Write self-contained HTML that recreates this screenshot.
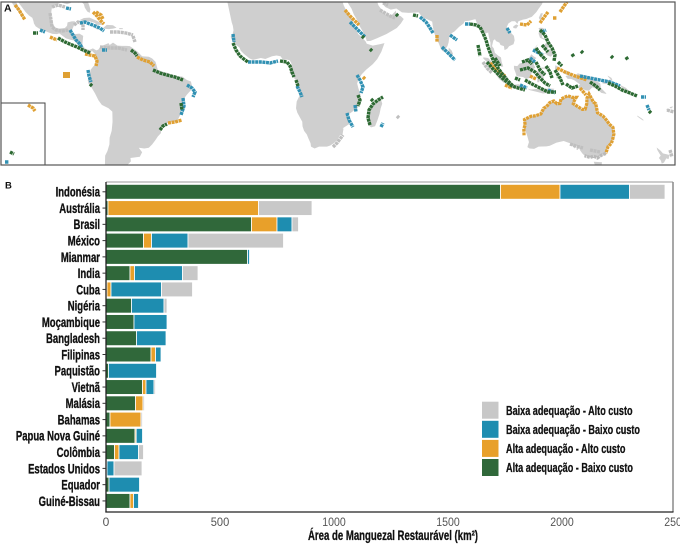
<!DOCTYPE html>
<html>
<head>
<meta charset="utf-8">
<style>
html,body{margin:0;padding:0;background:#fff;}
body{width:680px;height:546px;overflow:hidden;}
svg{display:block;}
</style>
</head>
<body>
<svg width="680" height="546" viewBox="0 0 680 546" xmlns="http://www.w3.org/2000/svg" font-family="'Liberation Sans', Arial, sans-serif">
<defs>
<clipPath id="mc"><rect x="1" y="2" width="674" height="163"/></clipPath>
</defs>

<!-- ================= MAP (A) ================= -->
<g clip-path="url(#mc)">
 <g transform="matrix(2.24,0,0,-2.26,269.8,69.8)" fill="#cfcfcf" stroke="none">
  <polygon points="-120,40 -120,34 -117,32.5 -116,30.5 -115,29.5 -114,28 -112.5,26.5 -111,24.5 -110,23 -109.5,23.2 -110.5,24.5 -111.5,26 -112.5,28.5 -113.5,30.5 -114.8,31.8 -113,31.3 -112,29.5 -110.5,27.5 -109,25.5 -107.5,24 -106,23 -105.5,21.5 -105.3,20.5 -104.5,19.2 -103,18.2 -101,17.5 -99,16.6 -97,15.9 -95,15.8 -94,16.1 -92.5,15 -91,13.9 -89,13.3 -87.5,13 -86,11.5 -85.7,10.5 -85,9.8 -84,9.3 -83,8.3 -81,7.7 -80,7.3 -79.5,8.5 -78,7 -77.3,4 -77.5,2.5 -78.8,1.5 -80,0 -80.5,-2.5 -80,-3.5 -81.3,-4.5 -81,-6 -79.5,-8 -78,-10.5 -76.5,-13.5 -75,-15.5 -72,-17 -70.3,-18.5 -70.2,-23 -70.6,-27 -71.5,-30 -71.6,-33 -72.5,-36 -73.5,-38 -73.6,-42 -74,-46 -65,-46 -63.5,-42 -62,-40.5 -62.2,-39 -58,-38.5 -57,-36.5 -58.5,-34.5 -56,-34.8 -54,-34.5 -52.5,-33 -51,-31 -50,-29.5 -48.6,-28 -48.5,-26 -46.5,-24 -44.5,-23 -42,-23 -41,-22 -40,-20 -39.5,-18 -39,-15 -38.5,-13 -37,-11 -35.2,-9 -34.8,-7 -35.2,-5.2 -37,-4.5 -39,-3 -41.5,-2.8 -44,-2.5 -45,-1.5 -48,-0.8 -50,0 -51,3.5 -52.5,5 -54,5.8 -57,6 -59,8 -61,9.5 -62.5,10.5 -64,10.6 -66,10.6 -68,10.7 -70,12 -71.5,11 -72,11.8 -74,11 -75.5,10.5 -76.5,9 -77.4,8.6 -79,9.5 -80.5,8.8 -81.5,9 -82.5,9.5 -83.7,11 -83.5,13 -83.3,15 -85,16 -88,15.7 -88.3,17.5 -87.5,19.5 -87,21.5 -88.5,21.4 -90.3,21 -90.5,19.5 -91.5,18.5 -94,18.2 -95.8,18.7 -96.5,19.8 -97.3,21.5 -97.7,24 -97.5,26 -97.2,27.8 -95,29.3 -93,29.7 -90.5,29 -89,29.5 -88,30.4 -85.5,29.7 -84,30 -83,29 -82.6,27.5 -81.5,25.8 -80.4,25.2 -80.1,26.8 -80.7,28.8 -81.4,30.5 -81,32 -79,33.5 -75,36 -75,40"/>
  <polygon points="-85,21.9 -83,22.9 -80.5,23.1 -77.5,21.8 -74.2,20.2 -75,19.9 -77.5,19.9 -78,20.7 -81,21.6 -83,21.5"/>
  <polygon points="-74.4,18.5 -72.8,19.9 -70,19.7 -68.4,18.6 -70,18.2 -72,18 -74.4,18.2"/>
  <polygon points="-78.3,18.4 -76.3,18.2 -76.8,17.8 -78,18.2"/>
  <polygon points="-67.2,18.5 -65.6,18.4 -65.6,18 -67.2,18"/>
  <polygon points="-20,35 -17,21 -16.5,19.5 -16.2,17.5 -16.8,15 -17.5,14.7 -16.6,12.5 -15,11 -13.5,9.8 -13,8.5 -11.5,7 -9,5 -7.5,4.4 -4,5.2 -2,4.8 1,6 3,6.3 4.8,6 6,4.3 7.5,4.5 8.8,4.3 9.6,3 9.8,1 9.2,-0.5 8.8,-1.3 10.3,-3 12,-5 12.2,-6 13,-8.5 13.5,-11 12,-14 11.7,-17 12.3,-19 14.5,-23 14.6,-25 15.3,-27 16.5,-28.6 17.3,-30.5 18.2,-32.5 18.4,-34 20,-34.8 22,-34 25.5,-34 27,-33.5 28.5,-32.5 30.2,-31 31.3,-29 32.5,-28.5 32.9,-26 32.5,-25.9 35.5,-24 35.3,-22 34.8,-20 36.5,-18.8 39.5,-16.5 40.6,-15 40.5,-11 39.5,-8 39,-6 39.5,-4.5 41,-2 43,0 46,2.5 48,4.8 49.8,8 51.2,11.8 49,11.3 46,10.7 43.3,11.5 42.8,12.5 41,14.5 39.5,15.8 38.5,18 37.3,21 36.5,23 35.5,24 34,26.5 33,28.5 32.5,30 32.3,35"/>
  <polygon points="49.3,-12 50.2,-15 49.5,-17 49,-19.5 48,-22.5 47,-25 45.2,-25.5 44,-24.5 43.5,-22 44.3,-19.5 44,-17 46,-15.7 47.5,-14.5 48.5,-13.4"/>
  <polygon points="33.5,36 34.5,31 34.9,29.5 36.5,27 37.5,24.5 39,22 40,19.5 41.5,17 42.7,14.5 43.3,12.7 45,12.8 48,14 52,15.8 55,17.5 56.7,18.5 58.5,20.5 59.8,22.5 58.5,23.7 56.5,24.5 56.3,26.2 54.5,24.3 51.6,24.2 51.5,26 50.5,25 50,26.5 48.5,28.5 48,30 50,30 51.5,27.8 54,26.6 56.5,27.1 59,25.4 62,25.2 66.5,25.4 67.5,24 68.8,22.8 70,22.5 72.5,21.3 72.8,19 73.5,16 74.5,13.5 75.5,11.5 76.5,9 77.5,8 78.2,9 79.3,10.4 79.8,12 80.3,15.5 81.5,16.4 82.5,17 84.5,19 86.5,20.5 87,21.5 89,21.7 90.5,22.1 91.8,22.4 92.3,21 93,19.5 94.3,18 94.5,16 95.5,15.8 97.5,16.5 97.8,14.5 98.5,12 98.5,10 98.3,8 99.5,6.5 100.3,5 101,3 102.5,2 103.5,1.3 104.2,1.5 103.5,3.5 103.2,5.5 102,6.2 100.5,7.5 100,9.5 99.2,10.5 99.8,13 100.5,13.5 101,12.7 102.5,12 103,11 104.5,10.5 104.8,8.7 106,9.3 106.8,10.4 108.8,11.3 109.3,13 109,15 106.5,17.5 105.8,19 106.5,20.5 108,21.5 109.5,21.5 110.5,20.3 111,21.5 113,22.2 114.5,22.5 117,23.5 119,25.5 120,27 121.5,29 122,30.5 121.5,32 121,36"/>
  <polygon points="79.9,9.8 81.2,8.5 81.8,7 81.2,6.2 80.2,6 79.8,7 79.8,8.5"/>
  <polygon points="120.1,23 121,25 121.9,25 121,22 120.7,22"/>
  <polygon points="108.7,19.2 110,20.1 111,19.6 110,18.3 108.7,18.5"/>
  <polygon points="95.3,5.5 97.5,5.2 100.3,2.2 103.7,-1 106,-3 105.8,-5.8 104.5,-5.8 102.3,-4 100.5,-1.5 98.7,1.7 97,3.4 95.3,5"/>
  <polygon points="105.2,-6.8 106.5,-6 108.5,-6.6 111,-6.4 112.8,-6.9 114.5,-7.7 114.3,-8.7 111,-8.2 108,-7.8 106,-7.4"/>
  <polygon points="115,-8.3 116.5,-8.7 119,-8.5 121,-8.6 123,-8.4 125,-8.3 127,-8.4 126.5,-9.2 124,-10.2 122,-10.5 119.5,-9.8 116,-9"/>
  <polygon points="109,1.8 110.5,1.6 111.5,2.8 113,3.2 114.5,4.5 115.5,5 116.8,6.9 117.7,6 119,5.2 118,4.3 117.6,3 118.5,1 117.5,0 116.8,-1.5 116.5,-3.5 114.5,-4 113,-3.2 111.5,-3 110.2,-2.9 109.6,-1 109,0.5"/>
  <polygon points="119.4,-5.5 119.5,-3.5 118.8,-2.5 119.8,0 120.5,0.7 121.5,1 123,0.9 124.5,1.5 125.2,1.5 124.3,0.4 123,0.5 121,0.4 120.2,-0.5 121,-1.5 122.5,-1 123.3,-0.8 122,-2.5 122.5,-4.5 121.5,-4.5 121,-2.8 120.5,-3 120.3,-5.5"/>
  <polygon points="127.5,2 128.5,1.5 128,0 127.8,-0.5 127.3,0.5"/>
  <polygon points="128,-3 130.5,-3.3 130.5,-3.8 128,-3.8"/>
  <polygon points="131,-1 132.5,-0.4 134,-0.9 134.5,-2.5 135.5,-3.3 137.5,-1.5 139,-2 141,-2.6 144,-3.8 145.8,-5 147.5,-6 147.8,-8 150,-10.2 150.3,-10.7 148,-10.2 146,-8.5 144,-7.7 142.5,-9.2 141,-9.1 139,-8.1 138,-8.3 137.8,-7 138.5,-6.5 136,-4.7 134.5,-4 133,-4 132,-2.8 133.5,-2.3 132,-2 131,-1.5"/>
  <polygon points="148.5,-5.5 150,-5.2 151.5,-4.4 152.3,-4.3 151.5,-5.6 150,-6.3 148.5,-6"/>
  <polygon points="150.8,-2.6 152.5,-3.6 153,-4.7 152.7,-4.8 151,-3"/>
  <polygon points="156,-6.5 157,-7 159,-8 160.5,-9.5 162,-10.5 161.5,-10.8 159.5,-9.8 157,-7.8"/>
  <polygon points="164,-20.2 166,-21.5 167,-22.3 166.5,-22.4 164.2,-20.8"/>
  <polygon points="177,-17.3 178.6,-17.5 178.4,-18.2 177.3,-18.1"/>
  <polygon points="178.5,-16.5 180,-16.2 179.5,-17 178.7,-17"/>
  <polygon points="172.7,-34.4 174.5,-35.8 175.5,-37 178.5,-37.7 178,-39.5 177,-39.2 176,-41 175,-41.5 174.5,-40 173.7,-39 174.5,-38 173,-35.5"/>
  <polygon points="120,18.5 121,18.6 122.2,18.5 122.5,17 121.5,15.5 121.7,14.2 123,13.7 124,13 123.5,12.8 122,13.5 120.6,14.2 120,16 120.3,17.5"/>
  <polygon points="122,7 123.5,7.8 124,8.8 125.5,9.5 126.3,8.5 126.5,7 125.5,5.8 124,6.3 123,7.3"/>
  <polygon points="122,10.5 123,11.5 124.2,12.5 125.5,11.2 125.2,10 124,9.8 123,9.2 122.3,9.5"/>
  <polygon points="117.2,8.4 118.5,9.5 119.6,11.2 119.3,11 117.5,8.8"/>
  <polygon points="113.5,-22 114.2,-21.8 116.5,-20.6 118.8,-20.3 121,-19.5 122.3,-17 123.5,-16.3 125,-14.5 126.8,-13.8 128.2,-15 129.5,-14.9 130,-13 131.5,-12.2 133,-11.5 135,-12.2 136.8,-12.2 136,-13.5 135.5,-15 137.5,-16.3 139.5,-17.5 140.8,-17.4 141.5,-15 141.6,-12.5 142.5,-10.7 143.5,-12.5 144.5,-14.3 145.5,-15 146.3,-19 148.8,-20.5 150.5,-22.5 151.5,-24 153.2,-25.5 153.6,-28.5 153,-31 152.5,-32.5 151,-34 150,-37 148,-37.8 146.3,-39 144.5,-38.2 143,-38.8 140.5,-38 139.5,-37 138.5,-35.6 138,-34.3 137.5,-35.5 136.8,-35.2 137.8,-33 135.9,-34.8 135,-33.2 134,-32.5 131.2,-31.5 128,-32.2 125,-33.6 123.5,-33.9 120,-34 118,-35 116,-34.8 115,-34.2 115.2,-33.5 115.7,-32 115,-29.5 114.2,-27 113.4,-26 114,-24.5 113.5,-23"/>
  <polygon points="144.6,-40.7 148.3,-40.9 148,-43 147,-43.6 145.2,-42.2"/>
  <polyline fill="none" stroke="#dfa033" stroke-width="1.45" stroke-dasharray="1.3 0.3" points="113.5,-29 113.4,-26 114,-24.5 113.7,-22 116.5,-20.6 118.8,-20.3 121,-19.5 122.3,-17 123.5,-16.3 125,-14.5 126.8,-13.8 128.2,-15 129.5,-14.9 130,-13 131.5,-12.2 133,-11.5 135,-12.2 136.8,-12.2 136,-13.5 135.5,-15 137.5,-16.3 139.5,-17.5 140.8,-17.4 141.5,-15 141.6,-12.5 142.5,-10.7 143.5,-12.5 144.5,-14.3 145.5,-15 146.3,-19 148.8,-20.5 150.5,-22.5 151.5,-24 153.2,-25.5 153.6,-28.5 153,-31 152.5,-32.5 151,-34 150,-37"/>
  <polyline fill="none" stroke="#b9b9b9" stroke-width="1.45" stroke-dasharray="1.3 0.3" points="150,-37 148,-37.8 146.3,-39 144.5,-38.2 143,-38.8 140.5,-38"/>
 </g>

 <g fill="none" stroke-width="3.4" stroke-dasharray="3 0.6">
  <path stroke="#bfbfbf" d="M50,13 L51,20 L52,27 L56,30 L62,31 L68,30 M52,7 L58,5 L65,7 M74,25 L78,22 L83,24 L83,30 M110,32 L118,32 L126,33 L133,35 M133,36 L135,42 M100,47 L110,48 L118,48 L127,50 M333,147 L337,143 L343,135 M380,10 L385,13 L390,16 L395,18 M383,3 L388,5 M483,62 L487,68 L492,73 M570,144 L576,146 L583,148 M590,150 L600,152 M667,110 L674,112 M670,150 L672,157 M397,116 L399,118"/>
  <path stroke="#dfa033" d="M15,5 L19,10 L22,15 L25,20 M50,37 L57,40 M85,54 L95,56 L97,61 L96,66 M93,12 L97,16 L100,20 L104,24 M96,12 L101,15 L103,19 M137,57 L143,60 L150,62 L154,66 M168,123 L175,122 L182,120 M345,10 L350,16 L355,21 L359,25 M363,77 L365,79 M437,35 L437,42 M490,63 L497,70 L505,76 M520,24 L527,25 L531,21 M540,23 L545,16 L548,12 M553,18 L557,18 M560,12 L564,6 L567,2 M557,68 L565,72 L575,76 L587,80 M580,88 L586,95 M505,85 L512,88 M530,76 L536,79"/>
  <path stroke="#3191b3" d="M40,30 L45,32 M70,30 L73,35 L76,40 L80,44 L82,48 M80,23 L85,22 L90,24 L95,26 L100,28 L104,31 M88,70 L89,76 L91,82 M102,50 L107,50 M66,8 L71,9 M187,85 L192,88 L195,92 L193,97 M183,98 L184,106 L181,115 M233,34 L234,42 M248,62 L255,62 L262,62 L270,63 L278,61 M297,86 L300,92 L302,97 M350,22 L355,27 L360,32 L365,37 M357,75 L360,80 L363,87 L361,93 M355,105 L356,112 M347,113 L349,120 L353,127 M420,17 L426,22 L430,28 L433,33 M442,47 L447,52 L452,57 L455,60 M450,35 L457,40 M465,24 L470,24 M507,28 L510,33 M520,85 L527,88 M533,50 L543,55 M548,90 L555,93 M580,76 L590,78 L600,80 L610,82 L620,86 M641,97 L646,97 M647,105 L649,110 M381,127 L383,123 M530,58 L535,62 M542,32 L546,30"/>
  <path stroke="#2d6a33" d="M33,33 L38,33 M58,38 L65,42 L72,45 L77,47 L83,50 L90,53 M90,84 L92,86 M131,50 L135,53 L137,56 M153,70 L160,73 L167,75 L175,77 L183,80 M181,103 L182,110 M160,130 L163,126 L167,124 M233,43 L236,50 L240,56 L245,60 L248,62 M280,61 L287,62 L290,66 L292,72 L294,77 M296,80 L298,86 M362,36 L364,38 M370,49 L372,51 M358,95 L360,100 L358,106 M370,125 L368,118 L369,110 L373,104 L378,100 L383,97 M371,99 L373,101 M396,14 L398,16 M413,15 L418,16 M470,24 L476,25 L480,27 L483,33 L486,40 L488,47 L491,55 L494,62 L498,68 L503,75 L508,81 L513,86 M478,45 L480,56 M487,62 L492,68 L497,73 L502,78 L507,82 L512,86 L518,88 L525,90 M495,58 L500,66 M520,70 L528,68 L535,72 L540,78 L545,83 L550,86 M525,80 L532,84 L540,88 L548,92 L556,92 M536,62 L540,70 L545,75 M555,70 L560,78 L563,85 M540,30 L545,35 L548,42 L552,48 L555,55 L554,61 M542,45 L548,52 M536,48 L541,55 L546,60 M608,83 L615,86 L622,90 L630,93 L637,96 M590,82 L596,86 L600,90 M572,54 L574,57 M581,51 L583,53 M611,56 L613,58 M626,57 L628,60 M649,111 L651,113 M522,62 L528,60 L532,64 M546,66 L550,72 L552,78 M558,62 L562,66 M515,78 L520,80 M566,84 L572,88 L578,86"/>
 </g>
 <rect x="63" y="72" width="7" height="6" fill="#dfa033"/>

 <rect x="1" y="103" width="44" height="62" fill="#fff" stroke="#444" stroke-width="1"/>
 <g fill="none" stroke-width="3.4" stroke-dasharray="3 0.6">
  <path stroke="#dfa033" d="M28,105 L33,108 L35,111"/>
  <path stroke="#2d6a33" d="M10,152 L14,154"/>
  <path stroke="#3191b3" d="M5,162 L9,162"/>
 </g>
</g>
<rect x="1" y="2" width="674" height="163" fill="none" stroke="#555" stroke-width="1.2"/>
<text x="4" y="11.7" font-size="10.5" font-weight="bold" fill="#111">A</text>

<!-- ================= BAR CHART (B) ================= -->
<text x="5" y="188.5" font-size="9.5" font-weight="bold" fill="#111">B</text>

<line x1="106" y1="182" x2="673" y2="182" stroke="#9a9a9a" stroke-width="1"/>
<line x1="673" y1="182" x2="673" y2="512" stroke="#8a8a8a" stroke-width="1.5"/>

<g stroke="#fff" stroke-width="0.8">
 <rect x="106" y="184.4" width="394.5" height="14.8" fill="#30683a"/>
 <rect x="500.5" y="184.4" width="59.5" height="14.8" fill="#e8a02a"/>
 <rect x="560" y="184.4" width="69.5" height="14.8" fill="#1e8db0"/>
 <rect x="629.5" y="184.4" width="35.5" height="14.8" fill="#c8c8c8"/>
 <rect x="106" y="200.67" width="2" height="14.8" fill="#30683a"/>
 <rect x="108" y="200.67" width="150.5" height="14.8" fill="#e8a02a"/>
 <rect x="258.5" y="200.67" width="53.5" height="14.8" fill="#c8c8c8"/>
 <rect x="106" y="216.94" width="145.5" height="14.8" fill="#30683a"/>
 <rect x="251.5" y="216.94" width="25.5" height="14.8" fill="#e8a02a"/>
 <rect x="277" y="216.94" width="15" height="14.8" fill="#1e8db0"/>
 <rect x="292" y="216.94" width="6.5" height="14.8" fill="#c8c8c8"/>
 <rect x="106" y="233.21" width="37.5" height="14.8" fill="#30683a"/>
 <rect x="143.5" y="233.21" width="8" height="14.8" fill="#e8a02a"/>
 <rect x="151.5" y="233.21" width="36.5" height="14.8" fill="#1e8db0"/>
 <rect x="188" y="233.21" width="95.5" height="14.8" fill="#c8c8c8"/>
 <rect x="106" y="249.48" width="141.5" height="14.8" fill="#30683a"/>
 <rect x="247.5" y="249.48" width="2" height="14.8" fill="#1e8db0"/>
 <rect x="106" y="265.75" width="24" height="14.8" fill="#30683a"/>
 <rect x="130" y="265.75" width="4.5" height="14.8" fill="#e8a02a"/>
 <rect x="134.5" y="265.75" width="48" height="14.8" fill="#1e8db0"/>
 <rect x="182.5" y="265.75" width="15.5" height="14.8" fill="#c8c8c8"/>
 <rect x="106" y="282.02" width="1" height="14.8" fill="#30683a"/>
 <rect x="107" y="282.02" width="4" height="14.8" fill="#e8a02a"/>
 <rect x="111" y="282.02" width="50.5" height="14.8" fill="#1e8db0"/>
 <rect x="161.5" y="282.02" width="31" height="14.8" fill="#c8c8c8"/>
 <rect x="106" y="298.29" width="25.5" height="14.8" fill="#30683a"/>
 <rect x="131.5" y="298.29" width="32.5" height="14.8" fill="#1e8db0"/>
 <rect x="164" y="298.29" width="3" height="14.8" fill="#c8c8c8"/>
 <rect x="106" y="314.56" width="28" height="14.8" fill="#30683a"/>
 <rect x="134" y="314.56" width="33" height="14.8" fill="#1e8db0"/>
 <rect x="106" y="330.83" width="30.5" height="14.8" fill="#30683a"/>
 <rect x="136.5" y="330.83" width="29.5" height="14.8" fill="#1e8db0"/>
 <rect x="106" y="347.1" width="45" height="14.8" fill="#30683a"/>
 <rect x="151" y="347.1" width="4.5" height="14.8" fill="#e8a02a"/>
 <rect x="155.5" y="347.1" width="5.5" height="14.8" fill="#1e8db0"/>
 <rect x="106" y="363.37" width="2.5" height="14.8" fill="#30683a"/>
 <rect x="108.5" y="363.37" width="48" height="14.8" fill="#1e8db0"/>
 <rect x="106" y="379.64" width="36.5" height="14.8" fill="#30683a"/>
 <rect x="142.5" y="379.64" width="3.5" height="14.8" fill="#e8a02a"/>
 <rect x="146" y="379.64" width="8" height="14.8" fill="#1e8db0"/>
 <rect x="154" y="379.64" width="1.5" height="14.8" fill="#c8c8c8"/>
 <rect x="106" y="395.91" width="29.5" height="14.8" fill="#30683a"/>
 <rect x="135.5" y="395.91" width="7.5" height="14.8" fill="#e8a02a"/>
 <rect x="143" y="395.91" width="1.5" height="14.8" fill="#c8c8c8"/>
 <rect x="106" y="412.18" width="4" height="14.8" fill="#30683a"/>
 <rect x="110" y="412.18" width="31" height="14.8" fill="#e8a02a"/>
 <rect x="141" y="412.18" width="1.5" height="14.8" fill="#c8c8c8"/>
 <rect x="106" y="428.45" width="29" height="14.8" fill="#30683a"/>
 <rect x="135" y="428.45" width="1.2" height="14.8" fill="#e8a02a"/>
 <rect x="136.2" y="428.45" width="6.3" height="14.8" fill="#1e8db0"/>
 <rect x="106" y="444.72" width="8.5" height="14.8" fill="#30683a"/>
 <rect x="114.5" y="444.72" width="4.5" height="14.8" fill="#e8a02a"/>
 <rect x="119" y="444.72" width="19.5" height="14.8" fill="#1e8db0"/>
 <rect x="138.5" y="444.72" width="5" height="14.8" fill="#c8c8c8"/>
 <rect x="106" y="460.99" width="1" height="14.8" fill="#30683a"/>
 <rect x="107" y="460.99" width="7" height="14.8" fill="#1e8db0"/>
 <rect x="114" y="460.99" width="28" height="14.8" fill="#c8c8c8"/>
 <rect x="106" y="477.26" width="3" height="14.8" fill="#30683a"/>
 <rect x="109" y="477.26" width="30.5" height="14.8" fill="#1e8db0"/>
 <rect x="106" y="493.53" width="24" height="14.8" fill="#30683a"/>
 <rect x="130" y="493.53" width="3.5" height="14.8" fill="#e8a02a"/>
 <rect x="133.5" y="493.53" width="5" height="14.8" fill="#1e8db0"/>
</g>

<line x1="106" y1="182" x2="106" y2="512.5" stroke="#222" stroke-width="1.3"/>
<line x1="105.4" y1="512" x2="673.5" y2="512" stroke="#222" stroke-width="1.3"/>

<g stroke="#333" stroke-width="1">
 <line x1="102.5" y1="191.8" x2="106" y2="191.8"/>
 <line x1="102.5" y1="208.07" x2="106" y2="208.07"/>
 <line x1="102.5" y1="224.34" x2="106" y2="224.34"/>
 <line x1="102.5" y1="240.61" x2="106" y2="240.61"/>
 <line x1="102.5" y1="256.88" x2="106" y2="256.88"/>
 <line x1="102.5" y1="273.15" x2="106" y2="273.15"/>
 <line x1="102.5" y1="289.42" x2="106" y2="289.42"/>
 <line x1="102.5" y1="305.69" x2="106" y2="305.69"/>
 <line x1="102.5" y1="321.96" x2="106" y2="321.96"/>
 <line x1="102.5" y1="338.23" x2="106" y2="338.23"/>
 <line x1="102.5" y1="354.5" x2="106" y2="354.5"/>
 <line x1="102.5" y1="370.77" x2="106" y2="370.77"/>
 <line x1="102.5" y1="387.04" x2="106" y2="387.04"/>
 <line x1="102.5" y1="403.31" x2="106" y2="403.31"/>
 <line x1="102.5" y1="419.58" x2="106" y2="419.58"/>
 <line x1="102.5" y1="435.85" x2="106" y2="435.85"/>
 <line x1="102.5" y1="452.12" x2="106" y2="452.12"/>
 <line x1="102.5" y1="468.39" x2="106" y2="468.39"/>
 <line x1="102.5" y1="484.66" x2="106" y2="484.66"/>
 <line x1="102.5" y1="500.93" x2="106" y2="500.93"/>
</g>

<g transform="translate(100,0) scale(0.68,1)" font-size="14" font-weight="bold" text-anchor="end" fill="#111" stroke="#111" stroke-width="0.35">
 <text x="0" y="196.7">Indonésia</text>
 <text x="0" y="212.97">Austrália</text>
 <text x="0" y="229.24">Brasil</text>
 <text x="0" y="245.51">México</text>
 <text x="0" y="261.78">Mianmar</text>
 <text x="0" y="278.05">India</text>
 <text x="0" y="294.32">Cuba</text>
 <text x="0" y="310.59">Nigéria</text>
 <text x="0" y="326.86">Moçambique</text>
 <text x="0" y="343.13">Bangladesh</text>
 <text x="0" y="359.4">Filipinas</text>
 <text x="0" y="375.67">Paquistão</text>
 <text x="0" y="391.94">Vietnã</text>
 <text x="0" y="408.21">Malásia</text>
 <text x="0" y="424.48">Bahamas</text>
 <text x="0" y="440.75">Papua Nova Guiné</text>
 <text x="0" y="457.02">Colômbia</text>
 <text x="0" y="473.29">Estados Unidos</text>
 <text x="0" y="489.56">Equador</text>
 <text x="0" y="505.83">Guiné-Bissau</text>
</g>

<g font-size="12" fill="#555" text-anchor="middle">
 <text x="106" y="526">0</text>
 <text x="220" y="526" textLength="18.5" lengthAdjust="spacingAndGlyphs">500</text>
 <text x="334" y="526" textLength="23.5" lengthAdjust="spacingAndGlyphs">1000</text>
 <text x="448" y="526" textLength="23.5" lengthAdjust="spacingAndGlyphs">1500</text>
 <text x="562" y="526" textLength="23.5" lengthAdjust="spacingAndGlyphs">2000</text>
 <text x="676" y="526" textLength="23.5" lengthAdjust="spacingAndGlyphs">2500</text>
</g>

<text x="308" y="540" font-size="13.5" font-weight="bold" fill="#111" stroke="#111" stroke-width="0.3" textLength="170" lengthAdjust="spacingAndGlyphs">Área de Manguezal Restaurável (km²)</text>

<rect x="478" y="398" width="164" height="82" fill="#fff"/>
<rect x="482" y="401.7" width="16.5" height="17" fill="#c8c8c8"/>
<rect x="482" y="420.8" width="16.5" height="17" fill="#1e8db0"/>
<rect x="482" y="439.9" width="16.5" height="17" fill="#e8a02a"/>
<rect x="482" y="459" width="16.5" height="17" fill="#30683a"/>
<g transform="translate(506,0) scale(0.7,1)" font-size="13" font-weight="bold" fill="#111" stroke="#111" stroke-width="0.3">
 <text x="0" y="414.8">Baixa adequação - Alto custo</text>
 <text x="0" y="433.9">Baixa adequação - Baixo custo</text>
 <text x="0" y="453">Alta adequação - Alto custo</text>
 <text x="0" y="472.1">Alta adequação - Baixo custo</text>
</g>
</svg>
</body>
</html>
